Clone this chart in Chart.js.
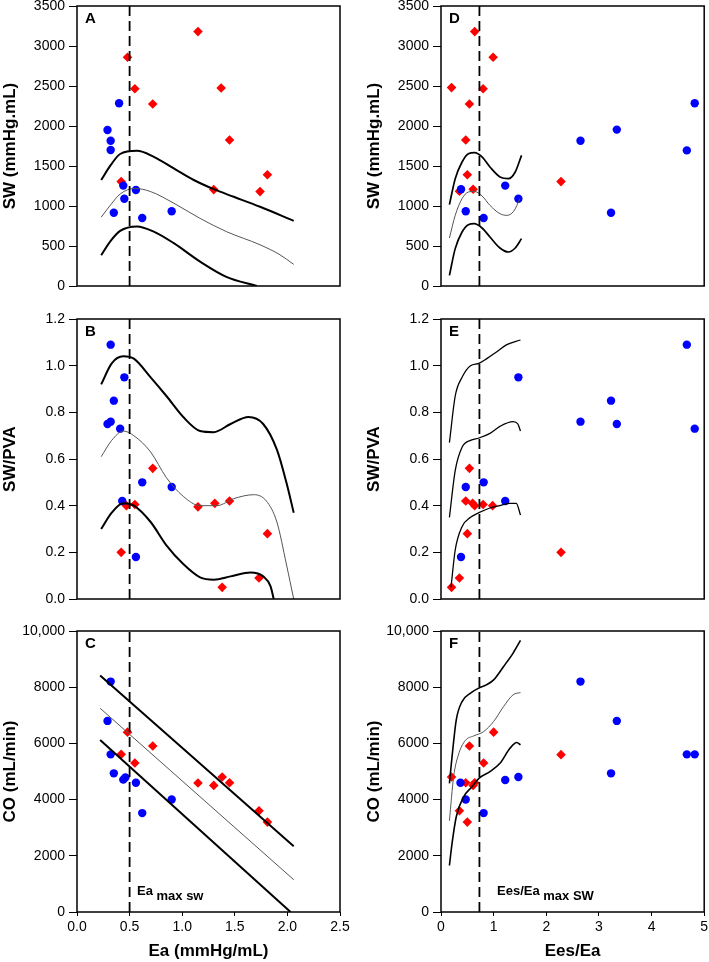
<!DOCTYPE html>
<html>
<head>
<meta charset="utf-8">
<script src="https://cdn.jsdelivr.net/npm/chart.js@4.4.1/dist/chart.umd.min.js"></script>
<style>
  body { margin: 0; background: #fff; }
  .p { position: absolute; }
</style>
</head>
<body>
<canvas class="p" id="cA" width="350" height="310" style="left:0;top:0"></canvas>
<canvas class="p" id="cD" width="354" height="310" style="left:355px;top:0"></canvas>
<canvas class="p" id="cB" width="350" height="320" style="left:0;top:305px"></canvas>
<canvas class="p" id="cE" width="354" height="320" style="left:355px;top:305px"></canvas>
<canvas class="p" id="cC" width="350" height="342" style="left:0;top:620px"></canvas>
<canvas class="p" id="cF" width="354" height="342" style="left:355px;top:620px"></canvas>
<script>
// ---- data ----
// A: SW vs Ea
var aBlueX = [0.29, 0.32, 0.32, 0.40, 0.35, 0.44, 0.45, 0.56, 0.62, 0.90];
var aBlueY = [1950, 1815, 1700, 2285, 915, 1255, 1090, 1200, 850, 935];
var aRedX = [0.48, 0.55, 0.72, 1.15, 1.37, 1.45, 1.30, 1.74, 1.81, 0.42];
var aRedY = [2860, 2465, 2275, 3180, 2475, 1825, 1205, 1180, 1390, 1305];
var aHiX = [0.23, 0.32, 0.41, 0.57, 0.73, 0.92, 1.11, 1.30, 1.49, 1.74, 2.06];
var aHiY = [1325, 1510, 1650, 1690, 1615, 1470, 1325, 1210, 1115, 990, 815];
var aMidX = [0.23, 0.32, 0.41, 0.55, 0.70, 0.92, 1.17, 1.42, 1.74, 1.93, 2.06];
var aMidY = [860, 1015, 1150, 1220, 1180, 1035, 845, 680, 515, 390, 270];
var aLoX = [0.23, 0.32, 0.41, 0.57, 0.73, 0.92, 1.17, 1.42, 1.71];
var aLoY = [385, 565, 690, 745, 680, 535, 305, 115, 0];

// B: SW/PVA vs Ea
var bBlueX = [0.32, 0.45, 0.35, 0.29, 0.32, 0.41, 0.62, 0.90, 0.43, 0.56];
var bBlueY = [1.09, 0.95, 0.85, 0.75, 0.76, 0.73, 0.50, 0.48, 0.42, 0.18];
var bRedX = [0.72, 0.47, 0.55, 1.15, 1.31, 1.45, 1.81, 0.42, 1.38, 1.73];
var bRedY = [0.56, 0.40, 0.405, 0.395, 0.41, 0.42, 0.28, 0.20, 0.05, 0.09];
var bHiX = [0.23, 0.33, 0.44, 0.54, 0.70, 0.85, 1.01, 1.17, 1.30, 1.46, 1.63, 1.77, 1.90, 1.99, 2.06];
var bHiY = [0.92, 1.01, 1.04, 1.03, 0.95, 0.87, 0.78, 0.72, 0.715, 0.75, 0.78, 0.75, 0.64, 0.50, 0.37];
var bMidX = [0.23, 0.33, 0.44, 0.54, 0.70, 0.85, 1.01, 1.17, 1.33, 1.49, 1.68, 1.80, 1.90, 1.99, 2.06];
var bMidY = [0.61, 0.68, 0.72, 0.70, 0.63, 0.52, 0.44, 0.40, 0.40, 0.43, 0.447, 0.42, 0.33, 0.15, 0];
var bLoX = [0.23, 0.33, 0.44, 0.54, 0.70, 0.85, 1.01, 1.17, 1.30, 1.46, 1.65, 1.77, 1.84, 1.87];
var bLoY = [0.30, 0.37, 0.41, 0.40, 0.33, 0.23, 0.15, 0.093, 0.083, 0.097, 0.114, 0.097, 0.054, 0];

// C: CO vs Ea
var cBlueX = [0.32, 0.29, 0.32, 0.35, 0.44, 0.46, 0.56, 0.62, 0.90];
var cBlueY = [8200, 6800, 5610, 4935, 4710, 4790, 4600, 3520, 4005];
var cRedX = [0.48, 0.42, 0.55, 0.72, 1.15, 1.30, 1.38, 1.45, 1.73, 1.81];
var cRedY = [6400, 5610, 5300, 5910, 4590, 4505, 4805, 4600, 3600, 3200];
var cHiX = [0.22, 2.06], cHiY = [8420, 2340];
var cMidX = [0.22, 2.06], cMidY = [7250, 1150];
var cLoX = [0.22, 2.03], cLoY = [6125, 0];

// D: SW vs Ees/Ea
var dBlueX = [0.38, 0.47, 0.81, 1.22, 1.47, 2.65, 3.34, 3.23, 4.67, 4.82];
var dBlueY = [1210, 935, 850, 1255, 1090, 1815, 1955, 915, 1695, 2285];
var dRedX = [0.20, 0.64, 0.99, 0.80, 0.54, 0.47, 0.50, 0.35, 0.61, 2.28];
var dRedY = [2480, 3180, 2860, 2465, 2275, 1825, 1390, 1185, 1210, 1305];
var dHiX = [0.16, 0.27, 0.40, 0.52, 0.64, 0.78, 0.93, 1.12, 1.28, 1.41, 1.53];
var dHiY = [1017, 1342, 1550, 1654, 1667, 1613, 1488, 1363, 1342, 1425, 1633];
var dMidX = [0.16, 0.27, 0.40, 0.52, 0.63, 0.78, 0.93, 1.12, 1.25, 1.38, 1.50];
var dMidY = [600, 883, 1092, 1175, 1183, 1125, 1008, 904, 883, 933, 1092];
var dLoX = [0.16, 0.27, 0.40, 0.52, 0.63, 0.78, 0.93, 1.12, 1.28, 1.41, 1.53];
var dLoY = [133, 467, 675, 767, 779, 725, 613, 475, 425, 475, 592];

// E: SW/PVA vs Ees/Ea
var eBlueX = [4.67, 1.47, 3.23, 2.65, 3.34, 4.82, 0.81, 0.47, 1.22, 0.38];
var eBlueY = [1.09, 0.95, 0.85, 0.76, 0.75, 0.73, 0.50, 0.48, 0.42, 0.18];
var eRedX = [0.54, 0.47, 0.60, 0.64, 0.80, 0.98, 0.50, 2.28, 0.35, 0.20];
var eRedY = [0.56, 0.42, 0.41, 0.40, 0.405, 0.40, 0.28, 0.20, 0.09, 0.05];
var eHiX = [0.16, 0.27, 0.40, 0.56, 0.72, 0.87, 1.06, 1.25, 1.51];
var eHiY = [0.67, 0.87, 0.95, 1.00, 1.01, 1.03, 1.06, 1.09, 1.11];
var eMidX = [0.16, 0.27, 0.40, 0.56, 0.72, 0.93, 1.12, 1.37, 1.46, 1.51];
var eMidY = [0.35, 0.55, 0.65, 0.68, 0.69, 0.71, 0.74, 0.76, 0.75, 0.72];
var eLoX = [0.19, 0.27, 0.40, 0.56, 0.72, 0.93, 1.12, 1.31, 1.43, 1.51];
var eLoY = [0.05, 0.21, 0.31, 0.35, 0.37, 0.39, 0.40, 0.41, 0.41, 0.36];

// F: CO vs Ees/Ea
var fBlueX = [2.65, 3.34, 4.67, 4.82, 3.23, 1.47, 1.22, 0.37, 0.47, 0.81];
var fBlueY = [8200, 6800, 5610, 5610, 4935, 4805, 4700, 4600, 4005, 3520];
var fRedX = [0.20, 1.00, 0.54, 0.81, 2.28, 0.47, 0.61, 0.64, 0.35, 0.50];
var fRedY = [4805, 6400, 5910, 5305, 5600, 4600, 4505, 4600, 3605, 3200];
var fHiX = [0.16, 0.21, 0.29, 0.40, 0.56, 0.72, 0.87, 1.00, 1.19, 1.37, 1.51];
var fHiY = [4580, 5530, 6840, 7490, 7790, 7970, 8090, 8260, 8740, 9215, 9665];
var fMidX = [0.16, 0.24, 0.33, 0.46, 0.62, 0.81, 1.00, 1.19, 1.37, 1.51];
var fMidY = [3245, 4815, 5590, 6100, 6265, 6420, 6780, 7315, 7730, 7810];
var fLoX = [0.16, 0.21, 0.29, 0.43, 0.59, 0.72, 0.93, 1.12, 1.31, 1.44, 1.51];
var fLoY = [1655, 2440, 3390, 4100, 4460, 4755, 4995, 5290, 5825, 6030, 5945];

// dashed reference lines (Ea at max SW, Ees/Ea at max SW)
var eaMaxSW = 0.5;
var eesEaMaxSW = 0.73;

var eaTicks = ['0.0', '0.5', '1.0', '1.5', '2.0', '2.5'];
var eesTicks = ['0', '1', '2', '3', '4', '5'];
var swTicks = ['0', '500', '1000', '1500', '2000', '2500', '3000', '3500'];
var pvaTicks = ['0.0', '0.2', '0.4', '0.6', '0.8', '1.0', '1.2'];
var coTicks = ['0', '2000', '4000', '6000', '8000', '10,000'];

var FONT = "'Liberation Sans', Arial, sans-serif";
Chart.defaults.font.family = FONT;
Chart.defaults.color = '#000';

function pts(xs, ys) {
  return xs.map(function (x, i) { return { x: x, y: ys[i] }; });
}

// w: line width; thin centre fits are drawn in dark grey
function curve(xs, ys, w, grey) {
  return {
    data: pts(xs, ys), showLine: true, pointRadius: 0,
    borderColor: grey ? '#555' : '#000', borderWidth: w,
    cubicInterpolationMode: 'monotone', fill: false
  };
}

function dots(xs, ys, red) {
  return {
    data: pts(xs, ys), showLine: false,
    pointStyle: red ? 'rectRot' : 'circle',
    pointRadius: red ? 4.8 : 4.2,
    backgroundColor: red ? '#ff0000' : '#0000ff',
    borderColor: red ? '#ff0000' : '#0000ff', borderWidth: 0
  };
}

function vline(x, yMax) {
  return {
    data: [{ x: x, y: 0 }, { x: x, y: yMax }], showLine: true, pointRadius: 0,
    borderColor: '#000', borderWidth: 1.8, borderDash: [10, 5]
  };
}

// frame, panel letter and the "max SW" note
var framePlugin = {
  id: 'frame',
  afterDraw: function (chart) {
    var ctx = chart.ctx, a = chart.chartArea, o = chart.options.plugins.frame;
    ctx.save();
    ctx.strokeStyle = '#000';
    ctx.lineWidth = 1.5;
    ctx.strokeRect(a.left, a.top, a.right - a.left, a.bottom - a.top);
    ctx.fillStyle = '#000';
    ctx.textBaseline = 'alphabetic';
    ctx.font = 'bold 15px ' + FONT;
    ctx.fillText(o.letter, a.left + 8, a.top + 17);
    if (o.note) {
      ctx.font = 'bold 13px ' + FONT;
      var x0 = a.left + o.noteDx;
      ctx.fillText(o.note, x0, a.bottom - 17);
      var w = ctx.measureText(o.note + ' ').width;
      ctx.fillText(o.sub, x0 + w, a.bottom - 12);
    }
    ctx.restore();
  }
};

function panel(id, p) {
  new Chart(document.getElementById(id), {
    type: 'scatter',
    data: { datasets: p.datasets },
    plugins: [framePlugin],
    options: {
      responsive: false,
      animation: false,
      layout: { padding: { top: p.top, right: p.right, left: 0, bottom: 0 } },
      plugins: {
        legend: { display: false },
        tooltip: { enabled: false },
        frame: { letter: p.letter, note: p.note, sub: p.sub, noteDx: p.noteDx }
      },
      scales: {
        x: {
          type: 'linear', min: p.xMin, max: p.xMax,
          afterBuildTicks: function (s) {
            s.ticks = p.xLabels.map(function (l) { return { value: parseFloat(l) }; });
          },
          ticks: {
            display: p.showX, autoSkip: false, maxRotation: 0, padding: 3,
            font: { size: 14 }, color: '#000',
            callback: function (v, i) { return p.xLabels[i]; }
          },
          grid: { display: p.showX, drawOnChartArea: false, drawTicks: true, tickLength: 4, color: '#000', lineWidth: 1 },
          border: { display: false },
          title: {
            display: !!p.xTitle, text: p.xTitle, color: '#000',
            font: { size: 17, weight: 'bold' }, padding: { top: 2, bottom: 0 }
          },
          afterFit: function (s) { s.height = p.bottom; s.paddingLeft = 0; s.paddingRight = 0; }
        },
        y: {
          type: 'linear', min: p.yMin, max: p.yMax,
          afterBuildTicks: function (s) {
            s.ticks = p.yLabels.map(function (l) { return { value: parseFloat(l.replace(',', '')) }; });
          },
          ticks: {
            autoSkip: false, padding: 4, font: { size: 14 }, color: '#000',
            callback: function (v, i) { return p.yLabels[i]; }
          },
          grid: { drawOnChartArea: false, drawTicks: true, tickLength: 8, color: '#000', lineWidth: 1 },
          border: { display: false },
          title: {
            display: true, text: p.yTitle, color: '#000',
            font: { size: 17, weight: 'bold' }, padding: { top: p.titlePad, bottom: 0 }
          },
          afterFit: function (s) { s.width = p.left; s.paddingTop = 0; s.paddingBottom = 0; }
        }
      }
    }
  });
}

var L = { xMin: 0, xMax: 2.5, xLabels: eaTicks, left: 77, right: 10, titlePad: 0 };
var R = { xMin: 0, xMax: 5, xLabels: eesTicks, left: 86, right: 4, titlePad: 9 };

function merge(a, b) { var o = {}; for (var k in a) o[k] = a[k]; for (var k2 in b) o[k2] = b[k2]; return o; }

panel('cA', merge(L, {
  top: 6, bottom: 24, showX: false, yMin: 0, yMax: 3500, yLabels: swTicks,
  yTitle: 'SW (mmHg.mL)', letter: 'A',
  datasets: [vline(eaMaxSW, 3500), curve(aHiX, aHiY, 2), curve(aMidX, aMidY, 1, true), curve(aLoX, aLoY, 2),
    dots(aBlueX, aBlueY), dots(aRedX, aRedY, true)]
}));
panel('cB', merge(L, {
  top: 14, bottom: 26, showX: false, yMin: 0, yMax: 1.2, yLabels: pvaTicks,
  yTitle: 'SW/PVA', letter: 'B',
  datasets: [vline(eaMaxSW, 1.2), curve(bHiX, bHiY, 2), curve(bMidX, bMidY, 1, true), curve(bLoX, bLoY, 2),
    dots(bBlueX, bBlueY), dots(bRedX, bRedY, true)]
}));
panel('cC', merge(L, {
  top: 11, bottom: 50, showX: true, yMin: 0, yMax: 10000, yLabels: coTicks,
  yTitle: 'CO (mL/min)', xTitle: 'Ea (mmHg/mL)', letter: 'C',
  note: 'Ea', sub: 'max sw', noteDx: 60,
  datasets: [vline(eaMaxSW, 10000), curve(cHiX, cHiY, 2), curve(cMidX, cMidY, 1, true), curve(cLoX, cLoY, 2),
    dots(cBlueX, cBlueY), dots(cRedX, cRedY, true)]
}));
panel('cD', merge(R, {
  top: 6, bottom: 24, showX: false, yMin: 0, yMax: 3500, yLabels: swTicks,
  yTitle: 'SW (mmHg.mL)', letter: 'D',
  datasets: [vline(eesEaMaxSW, 3500), curve(dHiX, dHiY, 1.7), curve(dMidX, dMidY, 1, true), curve(dLoX, dLoY, 1.7),
    dots(dBlueX, dBlueY), dots(dRedX, dRedY, true)]
}));
panel('cE', merge(R, {
  top: 14, bottom: 26, showX: false, yMin: 0, yMax: 1.2, yLabels: pvaTicks,
  yTitle: 'SW/PVA', letter: 'E',
  datasets: [vline(eesEaMaxSW, 1.2), curve(eHiX, eHiY, 1.3), curve(eMidX, eMidY, 1.3), curve(eLoX, eLoY, 1.3),
    dots(eBlueX, eBlueY), dots(eRedX, eRedY, true)]
}));
panel('cF', merge(R, {
  top: 11, bottom: 50, showX: true, yMin: 0, yMax: 10000, yLabels: coTicks,
  yTitle: 'CO (mL/min)', xTitle: 'Ees/Ea', letter: 'F',
  note: 'Ees/Ea', sub: 'max SW', noteDx: 56,
  datasets: [vline(eesEaMaxSW, 10000), curve(fHiX, fHiY, 1.6), curve(fMidX, fMidY, 1, true), curve(fLoX, fLoY, 1.6),
    dots(fBlueX, fBlueY), dots(fRedX, fRedY, true)]
}));
</script>
</body>
</html>
